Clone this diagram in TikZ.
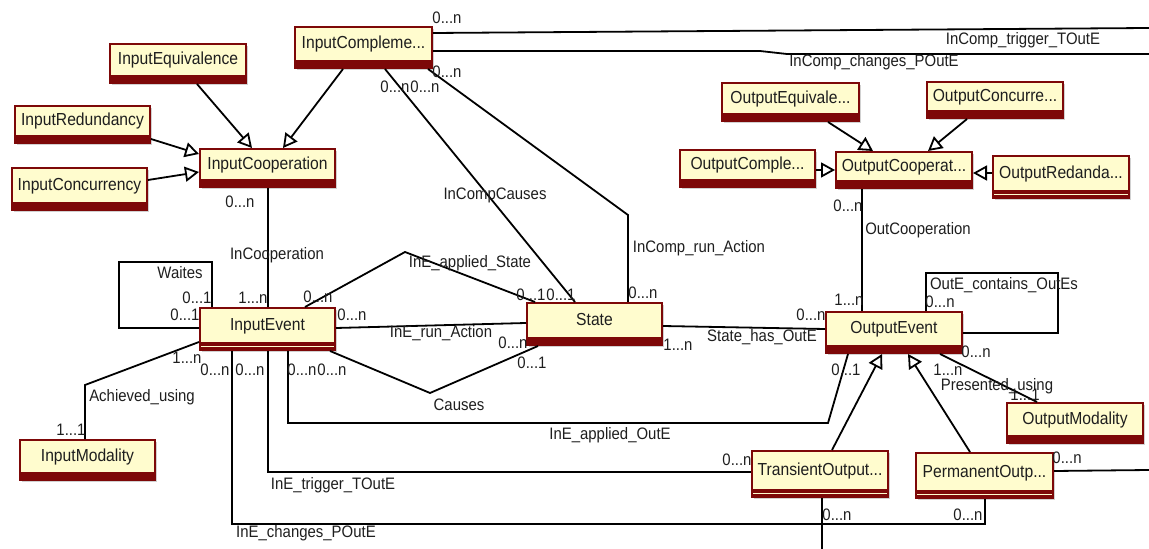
\documentclass[tikz,border=0pt]{standalone}
\usepackage{fontspec}
\setmainfont{Liberation Sans}[FakeStretch=0.9]
\usetikzlibrary{arrows.meta,shadows}
\definecolor{dred}{RGB}{125,8,8}
\definecolor{cream}{RGB}{255,252,206}
\definecolor{ink}{RGB}{30,30,30}
\newcommand\umlcls[7][]{\node[cls,#1,minimum width={(#5-#3)*0.5pt},minimum height={(#6-#4)*0.5pt}] (#2) at ({(#3+#5)/2},{(#4+#6)/2}) {#7};}
\newcommand\lb[3]{\node[lbl] (#1) at (#2) {#3};}
\begin{document}
\begin{tikzpicture}[x=0.5pt,y=-0.5pt,
  cls/.style={draw=dred, line width=1pt, fill=cream, inner sep=0pt,
    text height=6.5pt, text depth=5pt, text=ink, font=\fontsize{8.7}{10}\selectfont,
    drop shadow={shadow xshift=1pt, shadow yshift=-1pt, fill=black, opacity=0.18},
    path picture={\fill[dred] ([yshift=4pt]path picture bounding box.south west) rectangle (path picture bounding box.south east);}},
  dbl/.style={path picture={\fill[dred] ([yshift=4pt]path picture bounding box.south west) rectangle (path picture bounding box.south east);
    \draw[cream, line width=0.6pt] ([yshift=1.8pt]path picture bounding box.south west) -- ([yshift=1.8pt]path picture bounding box.south east);}},
  lbl/.style={inner sep=0pt, text=ink, font=\fontsize{8.3}{10}\selectfont},
  conn/.style={draw=black, line width=0.9pt},
  gen/.style={conn, -{Triangle[fill=white, length=7pt, width=7.5pt, line width=0.9pt]}}
]
\useasboundingbox (0,0) rectangle (1149,549);

% connectors first (below boxes)
\coordinate (r1) at (1149,28);
\coordinate (r2) at (1149,54);
\coordinate (r3) at (1149,470);
\coordinate (r4) at (822,549);

% classes
\umlcls{ieq}{110}{44}{246}{83}{InputEquivalence}
\umlcls{icm}{295}{27}{432}{68}{InputCompleme...}
\umlcls{ird}{15}{106}{150}{143}{InputRedundancy}
\umlcls{icc}{12}{168}{147}{210}{InputConcurrency}
\umlcls{ico}{200}{149}{335}{187}{InputCooperation}
\umlcls[dbl]{iev}{200}{308}{335}{350}{InputEvent}
\umlcls{st}{527}{303}{662}{345}{State}
\umlcls{oev}{826}{312}{962}{353}{OutputEvent}
\umlcls{imo}{20}{440}{155}{480}{InputModality}
\umlcls{oeq}{722}{83}{859}{121}{OutputEquivale...}
\umlcls{ocn}{927}{82}{1063}{118}{OutputConcurre...}
\umlcls{ocm}{680}{150}{815}{187}{OutputComple...}
\umlcls{oco}{836}{152}{972}{188}{OutputCooperat...}
\umlcls[dbl]{ord}{993}{156}{1129}{198}{OutputRedanda...}
\umlcls{omo}{1007}{403}{1143}{443}{OutputModality}
\umlcls[dbl]{tro}{752}{451}{888}{497}{TransientOutput...}
\umlcls[dbl]{pmo}{916}{453}{1053}{498}{PermanentOutp...}

% generalizations
\draw[gen] (197,0 |- ieq.south) -- (252,0 |- ico.north);
\draw[gen] (343,0 |- icm.south) -- (283,0 |- ico.north);
\draw[gen] (ird.east |- 0,139) -- (ico.west |- 0,154);
\draw[gen] (icc.east |- 0,180) -- (ico.west |- 0,172);
\draw[gen] (828,0 |- oeq.south) -- (873,0 |- oco.north);
\draw[gen] (967,0 |- ocn.south) -- (928,0 |- oco.north);
\draw[gen] (ocm.east |- 0,170) -- (oco.west |- 0,170);
\draw[gen] (ord.west |- 0,173) -- (oco.east |- 0,173);
\draw[gen] (832,0 |- tro.north) -- (882,0 |- oev.south);
\draw[gen] (970,0 |- pmo.north) -- (908,0 |- oev.south);

% associations
\draw[conn] (268,0 |- ico.south) -- (268,0 |- iev.north);
\draw[conn] (iev.west |- 0,328) -- (119,328) -- (119,262) -- (212,262) -- (212,0 |- iev.north);
\draw[conn] (305,0 |- iev.north) -- (405,252) -- (535,0 |- st.north);
\draw[conn] (385,0 |- icm.south) -- (575,0 |- st.north);
\draw[conn] (428,0 |- icm.south) -- (628,215) -- (628,0 |- st.north);
\draw[conn] (icm.east |- 0,33) -- (r1);
\draw[conn] (icm.east |- 0,51) -- (760,51) -- (787,54) -- (r2);
\draw[conn] (iev.east |- 0,328) -- (st.west |- 0,323);
\draw[conn] (330,0 |- iev.south) -- (430,393) -- (538,0 |- st.south);
\draw[conn] (288,0 |- iev.south) -- (288,423) -- (828,423) -- (848,0 |- oev.south);
\draw[conn] (268,0 |- iev.south) -- (268,472) -- (tro.west |- 0,472);
\draw[conn] (232,0 |- iev.south) -- (232,524) -- (985,524) -- (985,0 |- pmo.south);
\draw[conn] (822,0 |- tro.south) -- (r4);
\draw[conn] (iev.west |- 0,342) -- (85,385) -- (85,0 |- imo.north);
\draw[conn] (st.east |- 0,326) -- (oev.west |- 0,329);
\draw[conn] (862,0 |- oco.south) -- (862,0 |- oev.north);
\draw[conn] (926,0 |- oev.north) -- (926,273) -- (1058,273) -- (1058,333) -- (oev.east |- 0,333);
\draw[conn] (940,0 |- oev.south) -- (1037,0 |- omo.north);
\draw[conn] (pmo.east |- 0,471) -- (r3);

% labels
\lb{a1}{240,202}{0...n}
\lb{a2}{277,255}{InCooperation}
\lb{a3}{253,298}{1...n}
\lb{b1}{180,273}{Waites}
\lb{b2}{197,298}{0...1}
\lb{b3}{185,315}{0...1}
\lb{c1}{470,263}{InE\_applied\_State}
\lb{c2}{318,297}{0...n}
\lb{c3}{531,295}{0...1}
\lb{c4}{561,295}{0...1}
\lb{d1}{495,195}{InCompCauses}
\lb{d2}{395,87}{0...n}
\lb{d3}{425,87}{0...n}
\lb{e1}{447,18}{0...n}
\lb{e2}{447,72}{0...n}
\lb{f1}{699,248}{InComp\_run\_Action}
\lb{f2}{643,293}{0...n}
\lb{g1}{1023,40}{InComp\_trigger\_TOutE}
\lb{g2}{874,62}{InComp\_changes\_POutE}
\lb{h1}{441,333}{InE\_run\_Action}
\lb{h2}{352,315}{0...n}
\lb{h3}{513,343}{0...n}
\lb{i1}{459,405}{Causes}
\lb{i2}{302,370}{0...n}
\lb{i3}{332,370}{0...n}
\lb{i4}{532,363}{0...1}
\lb{j1}{610,435}{InE\_applied\_OutE}
\lb{j2}{846,370}{0...1}
\lb{k1}{333,485}{InE\_trigger\_TOutE}
\lb{k2}{737,460}{0...n}
\lb{k3}{215,370}{0...n}
\lb{k4}{250,370}{0...n}
\lb{m1}{306,533}{InE\_changes\_POutE}
\lb{m2}{968,515}{0...n}
\lb{m3}{837,515}{0...n}
\lb{n1}{142,397}{Achieved\_using}
\lb{n2}{71,430}{1...1}
\lb{n3}{187,358}{1...n}
\lb{o1}{762,337}{State\_has\_OutE}
\lb{o2}{678,345}{1...n}
\lb{o3}{811,315}{0...n}
\lb{p1}{918,230}{OutCooperation}
\lb{p2}{848,206}{0...n}
\lb{p3}{849,300}{1...n}
\lb{q1}{1004,285}{OutE\_contains\_OutEs}
\lb{q2}{940,302}{0...n}
\lb{q3}{976,352}{0...n}
\lb{s1}{997,386}{Presented\_using}
\lb{s2}{948,370}{1...n}
\lb{s3}{1025,395}{1...1}
\lb{t1}{1067,458}{0...n}
\end{tikzpicture}
\end{document}
